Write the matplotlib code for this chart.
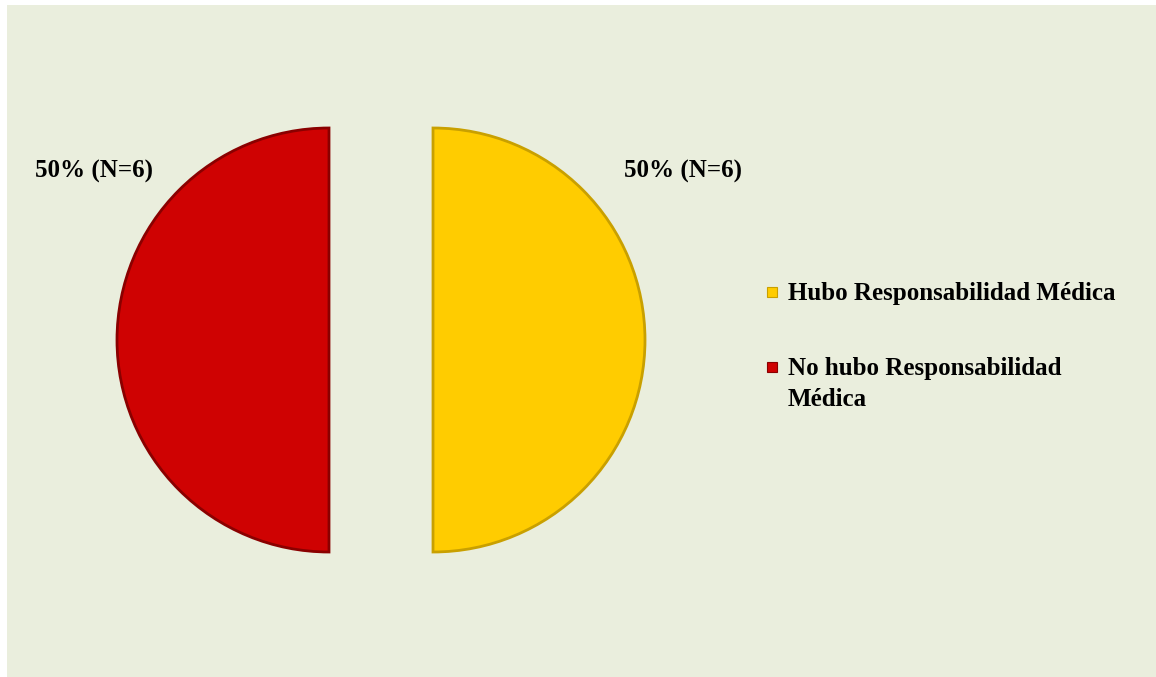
import matplotlib
matplotlib.use("Agg")
import matplotlib.pyplot as plt
from matplotlib.patches import Rectangle

categories = ["Hubo Responsabilidad Médica", "No hubo Responsabilidad\nMédica"]
values = [6, 6]
pct_labels = ["50% (N=6)", "50% (N=6)"]
colors = ["#FFCC00", "#CF0202"]
edge_colors = ["#C9A000", "#8A0000"]

W, H = 1156, 677
fig = plt.figure(figsize=(W / 100, H / 100), dpi=100, facecolor="white")
ax = fig.add_axes([0, 0, 1, 1])

def py(y):
    return H - y

R = 212
cx, cy = 381, 340
gap = 52
wedges, _ = ax.pie(values, colors=colors, startangle=90, counterclock=False,
                   radius=R, center=(cx, py(cy)), explode=[gap, gap],
                   wedgeprops=dict(linewidth=2.0), frame=True)
for w, ec in zip(wedges, edge_colors):
    w.set_edgecolor(ec)
    w.set_zorder(2)
ax.set_xlim(0, W)
ax.set_ylim(0, H)
ax.set_aspect("equal")
ax.axis("off")

# panel background
ax.add_patch(Rectangle((7, -5), W, H, facecolor="#EAEEDD", edgecolor="none", zorder=0))

font = dict(family="Liberation Serif", weight="bold", size=18, color="black")
ax.text(683, py(171), pct_labels[0], ha="center", va="center", **font)
ax.text(94, py(171), pct_labels[1], ha="center", va="center", **font)

# legend
leg_y = [292, 367]
for cat, col, ec, y in zip(categories, colors, edge_colors, leg_y):
    ax.add_patch(Rectangle((767, py(y) - 5), 10, 10, facecolor=col, edgecolor=ec, lw=0.8, zorder=3))
    ax.text(788, py(y) + 10, cat, ha="left", va="top", linespacing=1.45, **font)

fig.savefig("out.png", dpi=100, facecolor="white")
